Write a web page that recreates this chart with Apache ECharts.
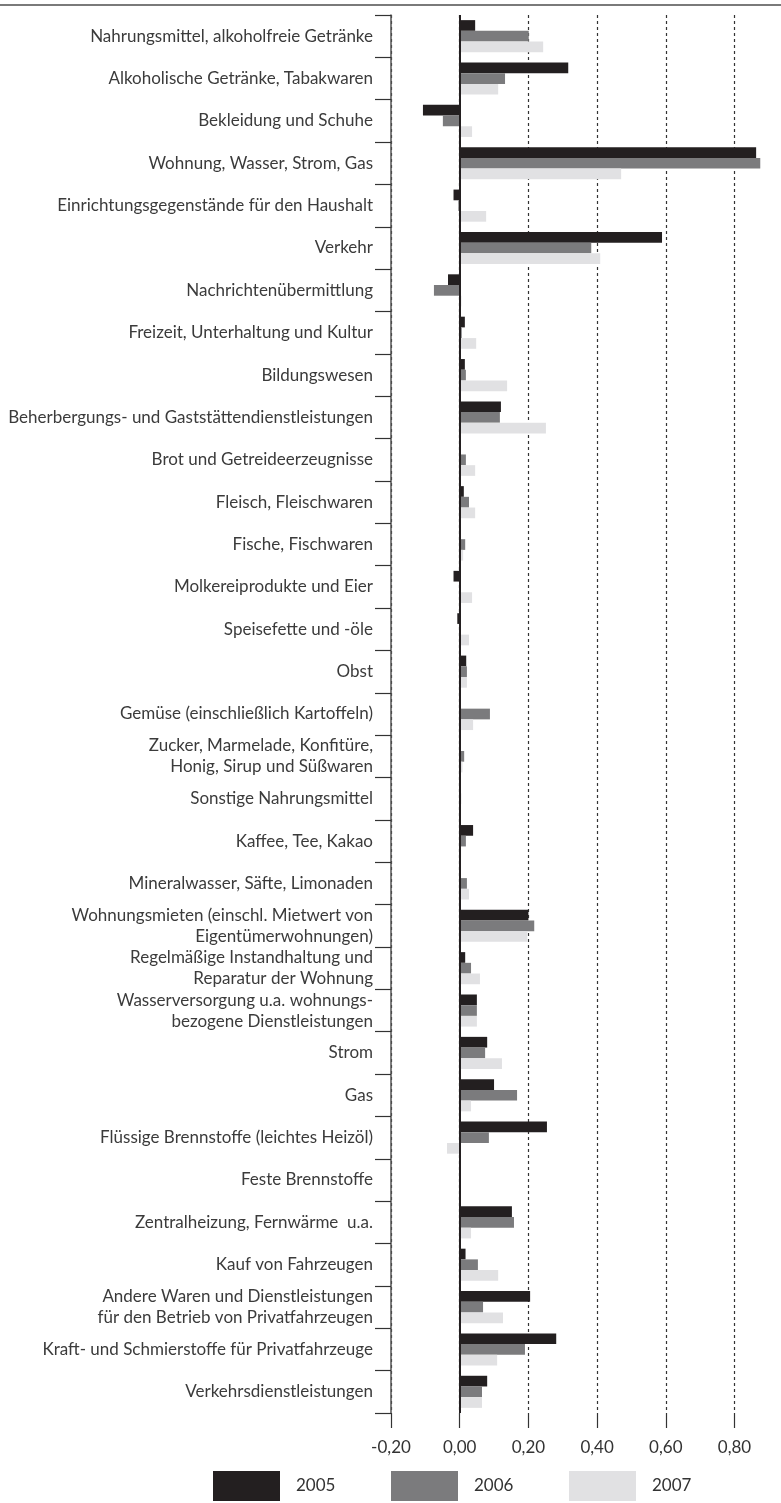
<!DOCTYPE html>
<html>
<head>
<meta charset="utf-8">
<script src="https://cdn.jsdelivr.net/npm/echarts@6/dist/echarts.min.js"></script>
<style>
html,body{margin:0;padding:0;background:#fff;}
#chart{width:781px;height:1503px;}
</style>
</head>
<body>
<div id="chart"></div>
<script>
const categories = [
"Nahrungsmittel, alkoholfreie Getränke",
"Alkoholische Getränke, Tabakwaren",
"Bekleidung und Schuhe",
"Wohnung, Wasser, Strom, Gas",
"Einrichtungsgegenstände für den Haushalt",
"Verkehr",
"Nachrichtenübermittlung",
"Freizeit, Unterhaltung und Kultur",
"Bildungswesen",
"Beherbergungs- und Gaststättendienstleistungen",
"Brot und Getreideerzeugnisse",
"Fleisch, Fleischwaren",
"Fische, Fischwaren",
"Molkereiprodukte und Eier",
"Speisefette und -öle",
"Obst",
"Gemüse (einschließlich Kartoffeln)",
"Zucker, Marmelade, Konfitüre,\nHonig, Sirup und Süßwaren",
"Sonstige Nahrungsmittel",
"Kaffee, Tee, Kakao",
"Mineralwasser, Säfte, Limonaden",
"Wohnungsmieten (einschl. Mietwert von\nEigentümerwohnungen)",
"Regelmäßige Instandhaltung und\nReparatur der Wohnung",
"Wasserversorgung u.a. wohnungs-\nbezogene Dienstleistungen",
"Strom",
"Gas",
"Flüssige Brennstoffe (leichtes Heizöl)",
"Feste Brennstoffe",
"Zentralheizung, Fernwärme  u.a.",
"Kauf von Fahrzeugen",
"Andere Waren und Dienstleistungen\nfür den Betrieb von Privatfahrzeugen",
"Kraft- und Schmierstoffe für Privatfahrzeuge",
"Verkehrsdienstleistungen"
];

const values2005 = [0.045, 0.316, -0.107, 0.863, -0.018, 0.589, -0.034, 0.015, 0.015, 0.120,
  0.002, 0.012, 0.003, -0.018, -0.007, 0.019, 0, 0, 0, 0.039,
  0, 0.200, 0.016, 0.050, 0.080, 0.100, 0.254, 0.002, 0.152, 0.017,
  0.205, 0.281, 0.080];
const values2006 = [0.201, 0.132, -0.049, 0.875, -0.004, 0.383, -0.075, 0.006, 0.018, 0.117,
  0.018, 0.027, 0.016, -0.002, 0.001, 0.021, 0.088, 0.013, 0.004, 0.018,
  0.021, 0.217, 0.033, 0.050, 0.074, 0.167, 0.085, 0.002, 0.158, 0.053,
  0.068, 0.190, 0.065];
const values2007 = [0.243, 0.112, 0.036, 0.470, 0.077, 0.409, 0.005, 0.048, 0.138, 0.251,
  0.045, 0.045, 0.010, 0.036, 0.027, 0.021, 0.039, 0.008, 0.003, 0.004,
  0.027, 0.197, 0.059, 0.050, 0.123, 0.033, -0.037, 0.001, 0.033, 0.112,
  0.126, 0.109, 0.065];
const seriesNames = ["2005", "2006", "2007"];
const tickMin = -0.2, tickMax = 1.0, tickStep = 0.2;

const colors = ["#231f20", "#7b7b7d", "#e1e1e3"];
const FONT = "Lato";
const chart = echarts.init(document.getElementById('chart'), null, {renderer: 'canvas'});

function legendAt(name, left) {
  return {
    data: [name], left: left, top: 1471, padding: 0, icon: 'rect',
    itemWidth: 67, itemHeight: 30, selectedMode: false,
    textStyle: {fontFamily: FONT, fontSize: 17, color: '#333', padding: [0, 0, 0, 11]}
  };
}

const allData = [values2005, values2006, values2007];
const option = {
  animation: false,
  backgroundColor: '#fff',
  textStyle: {fontFamily: FONT},
  grid: {left: 391, width: 412.2, top: 15, height: 1398, containLabel: false, outerBoundsMode: 'none'},
  legend: [legendAt("2005", 213), legendAt("2006", 391), legendAt("2007", 569)],
  xAxis: {
    type: 'value', min: tickMin, max: tickMax, interval: tickStep,
    axisLine: {show: false},
    axisTick: {show: true, length: 15, lineStyle: {color: '#333', width: 1.2}},
    axisLabel: {
      margin: 26, fontFamily: FONT, fontSize: 17, color: '#333',
      formatter: v => (v > 0.85 ? '' : v.toFixed(2).replace('.', ','))
    },
    splitLine: {show: true, lineStyle: {color: '#333', width: 1.2, type: [3, 3]}}
  },
  yAxis: {
    type: 'category', data: categories, inverse: true,
    axisLine: {show: true, onZero: false, lineStyle: {color: '#555', width: 1.5}},
    axisTick: {show: true, length: 16, lineStyle: {color: '#333', width: 1.2}},
    axisLabel: {margin: 18, fontFamily: FONT, fontSize: 17, color: '#3b3b3b', lineHeight: 21}
  },
  graphic: [{
    type: 'line', shape: {x1: 0, y1: 5, x2: 781, y2: 5},
    style: {stroke: '#7a7a7a', lineWidth: 2}
  }],
  series: seriesNames.map((n, i) => ({
    name: n, type: 'bar', data: allData[i], barWidth: 10.7, barGap: '0%',
    itemStyle: {color: colors[i]},
    markLine: i === 0 ? {
      silent: true, symbol: 'none', label: {show: false},
      lineStyle: {color: '#231f20', width: 2, type: 'solid'},
      data: [{xAxis: 0}]
    } : undefined
  }))
};
chart.setOption(option);
</script>
</body>
</html>
